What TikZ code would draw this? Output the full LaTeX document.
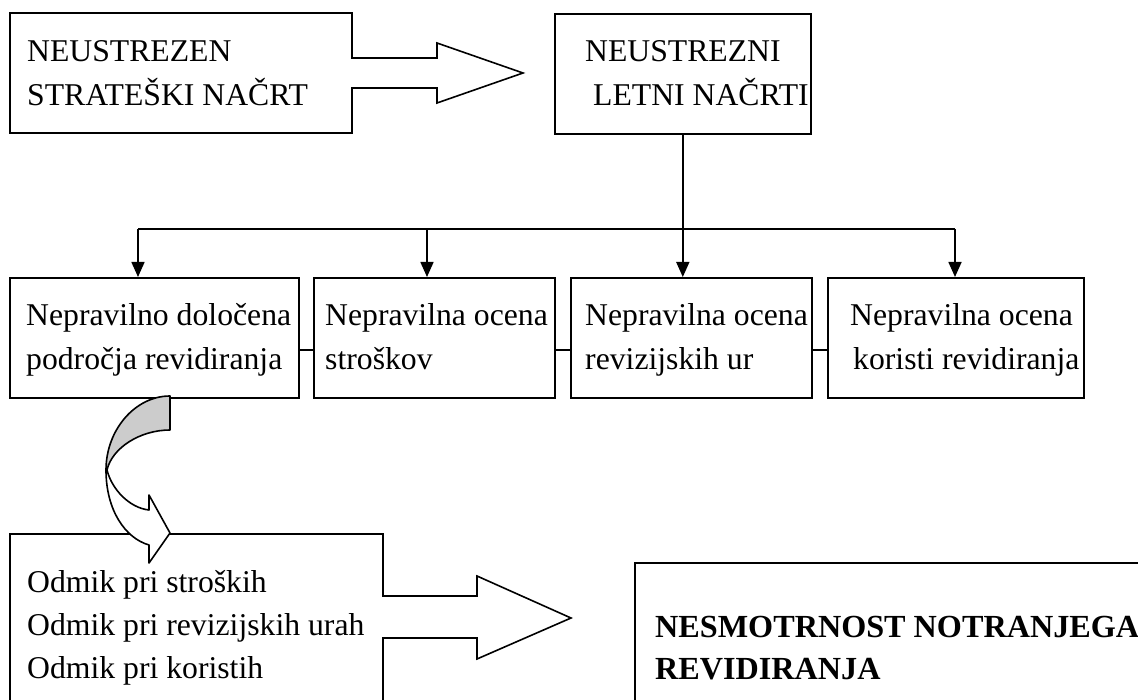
\documentclass[tikz,border=0pt]{standalone}
\usepackage{fontspec}
\setmainfont{Liberation Serif}
\usetikzlibrary{arrows.meta}
\definecolor{bandgray}{RGB}{204,204,204}
\tikzset{
  outline/.style={draw=black, line width=1.6pt, line join=miter},
  box/.style={outline, rectangle, anchor=north west, inner sep=0pt, minimum height=120pt},
  txt/.style={anchor=base west, inner sep=0pt, font=\fontsize{31.7}{44}\selectfont},
  link/.style={draw=black, line width=1.6pt},
  feed/.style={link, -{Triangle[length=15pt,width=13pt]}},
}
\newcommand{\textlines}[1]{\begin{tabular}[t]{@{}l@{}}#1\end{tabular}}

\begin{document}
\begin{tikzpicture}[x=1pt,y=-1pt]
\useasboundingbox (0,0) rectangle (1138,700);
\clip (0,0) rectangle (1138,700);

% strategic plan, its box fused with a block arrow
\draw[outline] (10,13) -- (352,13) -- (352,58) -- (437,58) -- (437,43) -- (523,73)
  -- (437,103) -- (437,88) -- (352,88) -- (352,133) -- (10,133) -- cycle;
\node[txt] (strat) at (27,62) {\textlines{NEUSTREZEN\\STRATEŠKI NAČRT}};

% annual plans
\node[box, minimum width=256pt] (annual) at (554,13) {};
\node[txt] (annualtxt) at (585,62) {\textlines{NEUSTREZNI\\\hspace*{8pt}LETNI NAČRTI}};

% four consequences
\node[box, minimum width=289pt] (area) at (9,277) {};
\node[box, minimum width=241pt] (cost) at (313,277) {};
\node[box, minimum width=241pt] (hours) at (570,277) {};
\node[box, minimum width=256pt] (benefit) at (827,277) {};

\node[txt] (areatxt) at (26,326) {\textlines{Nepravilno določena\\področja revidiranja}};
\node[txt] (costtxt) at (325,326) {\textlines{Nepravilna ocena\\stroškov}};
\node[txt] (hourstxt) at (585,326) {\textlines{Nepravilna ocena\\revizijskih ur}};
\node[txt] (benefittxt) at (850,326) {\textlines{Nepravilna ocena\\\hspace*{3pt}koristi revidiranja}};

% distribution bus
\coordinate (busL) at (138,229);
\coordinate (busB) at (427,229);
\coordinate (busR) at (955,229);
\draw[link] (busL) -- (busR);
\draw[feed] (annual.south) -- (annual.south |- hours.north);
\draw[feed] (busL) -- (busL |- area.north);
\draw[feed] (busB) -- (busB |- cost.north);
\draw[feed] (busR) -- (busR |- benefit.north);

% short ties between neighbouring boxes
\draw[link] ([yshift=-12pt]area.east) -- ([yshift=-12pt]cost.west);
\draw[link] ([yshift=-12pt]cost.east) -- ([yshift=-12pt]hours.west);
\draw[link] ([yshift=-12pt]hours.east) -- ([yshift=-12pt]benefit.west);

% deviations, box fused with a block arrow
\draw[outline] (10,720) -- (10,534) -- (383,534) -- (383,596) -- (477,596) -- (477,576)
  -- (571,618) -- (477,659) -- (477,638) -- (383,638) -- (383,720);
\node[txt, font=\fontsize{31.7}{43}\selectfont] (devtxt) at (27,592)
  {\textlines{Odmik pri stroških\\Odmik pri revizijskih urah\\Odmik pri koristih}};

% result
\node[box, minimum width=600pt, minimum height=200pt] (result) at (634,562) {};
\node[txt, font=\bfseries\fontsize{32.2}{42}\selectfont] (resulttxt) at (655,637)
  {\textlines{NESMOTRNOST NOTRANJEGA\\REVIDIRANJA}};

% curved band arrow: grey back face, white front face with head
\filldraw[outline, line join=round, fill=bandgray]
  (170,396) .. controls (135,396) and (106,430) .. (106,470) -- (107,470)
  .. controls (112,448) and (140,430) .. (170,430) -- cycle;
\filldraw[outline, line join=round, fill=white]
  (106,470) .. controls (106,510) and (125,538) .. (149,545) -- (149,563) -- (170,533)
  -- (149,495) -- (149,510) .. controls (130,508) and (112,490) .. (107,470) -- cycle;
\end{tikzpicture}
\end{document}
